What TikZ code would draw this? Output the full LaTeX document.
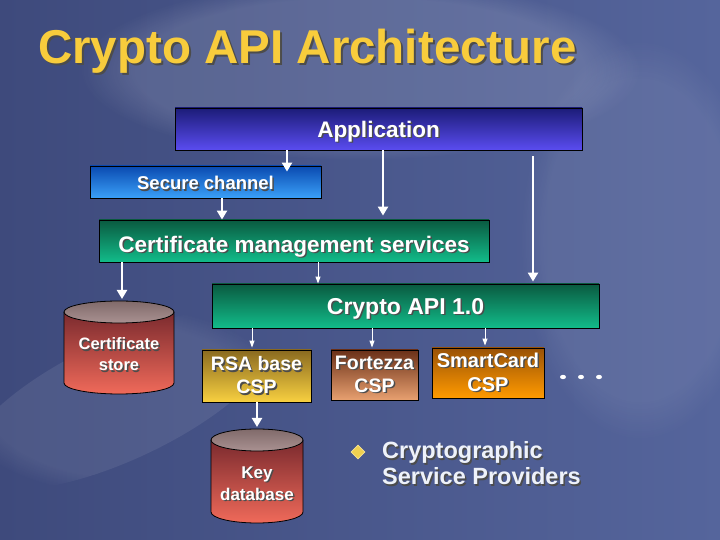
\documentclass[tikz,border=0pt]{standalone}
\usepackage{fontspec}
\setmainfont{Liberation Sans}
\usetikzlibrary{arrows.meta,calc,fadings,shapes.geometric}
\definecolor{bgL}{HTML}{3E4A7C}
\definecolor{bgR}{HTML}{55659C}
\definecolor{titlec}{HTML}{F8CC3C}
\definecolor{appT}{HTML}{1C1C78}
\definecolor{appB}{HTML}{5A4CF0}
\definecolor{scT}{HTML}{0A4AB0}
\definecolor{scB}{HTML}{3AA0F8}
\definecolor{grT}{HTML}{0A5A40}
\definecolor{grB}{HTML}{12BC8A}
\definecolor{rsaT}{HTML}{8A6A20}
\definecolor{rsaB}{HTML}{F8D040}
\definecolor{foT}{HTML}{6A3018}
\definecolor{foB}{HTML}{E8A070}
\definecolor{smT}{HTML}{9A5206}
\definecolor{smB}{HTML}{FF9A00}
\definecolor{cylT}{HTML}{7A2A2E}
\definecolor{cylB}{HTML}{F06A5A}
\definecolor{cylTop}{HTML}{A08585}
\definecolor{bulc}{HTML}{F0D050}
\definecolor{txtc}{HTML}{EEF2FA}
\newcommand\shd[2][1.5pt]{\makebox[0pt][l]{\hspace{#1}\raisebox{-#1}{\textcolor{black!70}{#2}}}#2}
\newcommand\fs[2]{\fontsize{#1}{#2}\selectfont}
\begin{document}
\begin{tikzpicture}[x=1pt,y=1pt,
  box/.style={draw=black, line width=0.8pt, inner sep=0pt, text=white, align=center},
  bigarrow/.style={draw=white, line width=2.6pt, -{Triangle[width=10pt,length=9pt]}},
  thinarrow/.style={draw=white, line width=1pt, -{Triangle[width=5pt,length=7pt]}},
  cylbody/.style={top color=cylT, bottom color=cylB},
  cyltop/.style={draw=black, line width=0.8pt, top color=cylTop!80!black, bottom color=cylTop!90!white},
]
\useasboundingbox (0,0) rectangle (720,540);
% background
\shade[left color=bgL, right color=bgR] (0,0) rectangle (720,540);
\fill[white, opacity=.12, path fading=circle with fuzzy edge 20 percent] (360,470) ellipse [x radius=280pt, y radius=90pt];
\fill[white, opacity=.08, path fading=circle with fuzzy edge 20 percent, rotate around={25:(120,140)}] (120,140) ellipse [x radius=170pt, y radius=60pt];
\fill[white, opacity=.07, path fading=circle with fuzzy edge 20 percent] (640,300) ellipse [x radius=120pt, y radius=200pt];

% title
\node[anchor=base west, inner sep=0pt, text=titlec, font=\bfseries\fs{47.5}{50}] (title) at (38,476) {\shd[2pt]{Crypto API Architecture}};

% boxes
\node[box, minimum width=407pt, minimum height=42pt, top color=appT, bottom color=appB, font=\bfseries\fs{22.5}{27}, text height=16.1pt, text depth=0pt] (app) at (378.5,411) {\shd{Application}};
\node[box, minimum width=231pt, minimum height=32pt, top color=scT, bottom color=scB, font=\bfseries\fs{18.5}{22}, text height=15.2pt, text depth=0pt] (sc) at (205.5,358) {\shd{Secure channel}};
\node[box, minimum width=390pt, minimum height=42pt, top color=grT, bottom color=grB, font=\bfseries\fs{22.5}{27}, text height=23pt, text depth=0pt] (cms) at (294,299) {\shd{Certificate management services}};
\node[box, minimum width=387pt, minimum height=44pt, top color=grT, bottom color=grB, font=\bfseries\fs{23}{27}, text height=17pt, text depth=0pt] (api) at (405.5,234) {\shd{Crypto API 1.0}};
\node[box, minimum width=109pt, minimum height=52pt, top color=rsaT, bottom color=rsaB, font=\bfseries\fs{19.5}{23}] (rsa) at (256.5,164) {\shd{RSA base}\\\shd{CSP}};
\node[box, minimum width=87pt, minimum height=50pt, top color=foT, bottom color=foB, font=\bfseries\fs{19.5}{23}] (fort) at (374.5,165) {\shd{Fortezza}\\\shd{CSP}};
\node[box, minimum width=112pt, minimum height=50pt, top color=smT, bottom color=smB, font=\bfseries\fs{20}{24}] (smart) at (488,167) {\shd{SmartCard}\\\shd{CSP}};

% certificate store cylinder (xc=119, rx=55, top 239, bottom 146, ry=11)
\shade[cylbody] (64,228) -- (64,157) arc[start angle=180,end angle=360,x radius=55pt,y radius=11pt] -- (174,228) arc[start angle=0,end angle=-180,x radius=55pt,y radius=11pt] -- cycle;
\draw[line width=0.8pt] (64,228) -- (64,157) arc[start angle=180,end angle=360,x radius=55pt,y radius=11pt] -- (174,228);
\draw[cyltop] (119,228) ellipse [x radius=55pt, y radius=11pt];
\node[text=white, align=center, font=\bfseries\fs{16.5}{21}] (cstore) at (119,185) {\shd{Certificate}\\\shd{store}};
\coordinate (cstop) at (122,241);

% key database cylinder (xc=257, rx=46, top 111, bottom 17, ry=11)
\shade[cylbody] (211,100) -- (211,28) arc[start angle=180,end angle=360,x radius=46pt,y radius=11pt] -- (303,100) arc[start angle=0,end angle=-180,x radius=46pt,y radius=11pt] -- cycle;
\draw[line width=0.8pt] (211,100) -- (211,28) arc[start angle=180,end angle=360,x radius=46pt,y radius=11pt] -- (303,100);
\draw[cyltop] (257,100) ellipse [x radius=46pt, y radius=11pt];
\node[text=white, align=center, font=\bfseries\fs{17}{22}] (kdb) at (257,56) {\shd{Key}\\\shd{database}};
\coordinate (kdbtop) at (257,113);

% ellipsis dots
\foreach \dx in {563,581,599} \fill[white] (\dx,163) ellipse [x radius=3pt, y radius=2.2pt];

% bullet and text
\node[diamond, fill=bulc, draw=bulc!60!white, line width=0.6pt, minimum size=14pt, inner sep=0pt] (bul) at (358,88) {};
\node[anchor=west, inner sep=0pt, text=txtc, align=left, font=\bfseries\fs{23.5}{26}] (csp) at (382,76) {\shd{Cryptographic}\\\shd{Service Providers}};

% arrows
\draw[bigarrow] (app.south -| 287,0) -- ($(sc.north -| 287,0)+(0,-6)$);
\draw[bigarrow] (sc.south -| 222,0) -- (cms.north -| 222,0);
\draw[bigarrow] (app.south -| 383,0) -- ($(cms.north -| 383,0)+(0,4)$);
\draw[bigarrow] ($(app.south -| 533,0)+(0,-6)$) -- ($(api.north -| 533,0)+(0,2)$);
\draw[bigarrow] (cms.south -| cstop) -- (cstop);
\draw[thinarrow] (cms.south -| 318,0) -- (api.north -| 318,0);
\draw[thinarrow] (api.south -| 252,0) -- ($(rsa.north -| 252,0)+(0,2)$);
\draw[thinarrow] (api.south -| 372,0) -- ($(fort.north -| 372,0)+(0,2)$);
\draw[thinarrow] (api.south -| 485,0) -- ($(smart.north -| 485,0)+(0,2)$);
\draw[bigarrow] (rsa.south -| kdbtop) -- (kdbtop);
\end{tikzpicture}
\end{document}
